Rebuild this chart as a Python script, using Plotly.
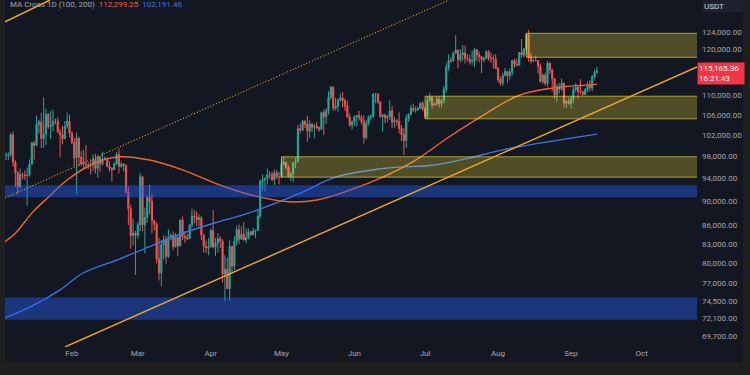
import numpy as np
import pandas as pd
import plotly.graph_objects as go

# ---------------- data (BTC/USDT daily, values in thousands of USDT) ----------------
open_ = [
    # Jan
    93.58, 94.59, 96.98, 98.14, 98.24, 98.31, 102.08, 96.92, 95.04, 92.48, 94.70, 94.57, 94.51, 94.52, 96.53, 100.50,
    99.99, 104.08, 104.56, 101.33, 102.26, 106.14, 103.65, 103.94, 104.72, 104.71, 102.59, 102.08, 101.33, 103.73, 104.73,
    # Feb
    102.43, 100.64, 97.69, 101.41, 97.87, 96.62, 96.55, 96.45, 96.46, 96.45, 97.43, 95.78, 97.87, 96.61, 97.50, 97.57,
    96.12, 95.77, 95.54, 96.64, 98.33, 96.13, 96.58, 96.27, 91.55, 88.74, 84.35, 84.70,
    # Mar
    84.35, 86.06, 94.27, 86.07, 87.22, 90.62, 89.96, 86.74, 86.15, 80.73, 78.60, 82.93, 83.68, 81.07, 83.97, 84.34,
    82.58, 84.08, 82.72, 86.85, 84.17, 84.04, 83.83, 86.08, 87.50, 87.39, 86.90, 87.23, 84.42, 82.65, 82.39,
    # Apr
    82.55, 85.16, 82.52, 83.10, 83.84, 83.50, 78.37, 79.14, 76.27, 82.62, 79.61, 83.42, 85.28, 83.76, 84.54, 83.63,
    84.03, 84.94, 84.45, 85.06, 85.17, 87.51, 93.44, 93.69, 93.98, 94.64, 94.63, 93.75, 94.98, 94.28,
    # May
    94.17, 96.49, 96.91, 95.86, 94.28, 94.73, 96.83, 97.03, 103.24, 102.97, 104.70, 104.12, 102.79, 104.17, 103.54, 103.74,
    103.49, 103.13, 106.45, 105.61, 106.79, 109.64, 111.70, 107.32, 107.76, 109.00, 109.44, 108.94, 107.78, 105.59, 103.98,
    # Jun
    104.59, 105.64, 105.81, 105.42, 104.70, 101.51, 104.29, 105.62, 105.73, 110.26, 110.27, 108.65, 105.67, 105.98, 105.41,
    105.59, 106.79, 104.55, 104.88, 104.64, 103.28, 102.12, 100.96, 105.33, 106.08, 107.33, 106.95, 107.07, 107.30, 108.36,
    # Jul
    107.14, 105.68, 108.85, 109.58, 107.98, 108.22, 109.20, 108.26, 108.92, 111.23, 115.99, 117.52, 117.42, 119.09, 119.84,
    117.68, 118.78, 119.18, 117.92, 117.84, 117.27, 117.38, 119.95, 118.76, 118.34, 117.64, 117.94, 119.45, 118.06, 117.92, 117.83,
    # Aug
    115.76, 113.30, 112.53, 114.21, 115.06, 114.11, 114.99, 117.49, 116.67, 116.46, 119.29, 118.69, 120.13, 123.31, 118.30,
    117.34, 117.49, 117.45, 116.23, 112.87, 114.27, 112.50, 116.94, 115.38, 113.49, 110.11, 111.79, 111.26, 112.57, 108.38, 108.82,
    # Sep
    108.25, 109.24, 111.24, 111.71, 110.72, 110.66, 110.19, 111.14, 112.07, 111.55, 113.96, 114.90,
]
high = [
    95.00, 97.80, 98.98, 98.70, 98.80, 102.48, 102.70, 97.30, 95.30, 95.80, 95.00, 95.40, 95.90, 97.37, 100.68, 100.87,
    105.86, 104.99, 106.42, 109.59, 107.24, 106.33, 106.85, 107.10, 105.28, 105.47, 103.20, 103.78, 104.78, 106.46, 106.01,
    102.75, 101.46, 102.50, 101.73, 99.00, 99.20, 100.14, 96.88, 97.30, 98.35, 98.50, 98.12, 98.00, 98.83, 97.97, 97.73,
    97.05, 96.00, 96.90, 98.80, 99.50, 96.98, 96.67, 96.50, 92.50, 89.40, 87.00, 85.10,
    86.56, 95.00, 94.42, 88.91, 90.99, 92.81, 91.28, 86.85, 86.47, 83.95, 83.62, 84.36, 84.30, 85.31, 84.67, 85.00,
    84.73, 84.10, 87.02, 87.45, 85.00, 84.57, 86.10, 88.77, 88.55, 88.29, 87.80, 87.50, 84.57, 83.50, 83.95,
    85.49, 88.50, 83.92, 84.72, 84.23, 83.75, 81.24, 80.86, 83.59, 82.70, 84.25, 85.90, 86.10, 85.80, 86.50, 85.50,
    85.47, 85.10, 85.60, 85.30, 88.46, 93.82, 94.70, 94.00, 95.76, 95.30, 95.20, 95.60, 95.46, 95.18,
    97.44, 97.90, 96.95, 96.30, 95.20, 96.92, 97.73, 103.97, 104.32, 104.98, 104.94, 105.82, 104.97, 104.36, 104.20, 104.55,
    103.70, 106.66, 107.11, 107.32, 110.80, 111.98, 111.80, 109.46, 109.30, 110.40, 110.70, 109.30, 108.90, 106.30, 104.90,
    105.88, 105.95, 106.79, 106.00, 105.90, 105.00, 105.90, 106.10, 110.50, 110.40, 110.39, 108.75, 106.20, 106.20, 105.95,
    108.95, 107.77, 105.57, 105.20, 106.50, 104.00, 103.40, 106.10, 106.30, 108.00, 108.27, 107.70, 107.60, 108.53, 108.79,
    107.53, 109.79, 110.53, 109.75, 108.50, 109.70, 109.73, 109.20, 111.99, 116.87, 118.87, 118.20, 119.49, 123.22, 119.94,
    120.07, 120.99, 120.83, 118.95, 118.86, 119.68, 120.25, 120.10, 119.54, 118.40, 118.30, 119.80, 119.80, 119.27, 118.79, 118.92,
    116.10, 114.00, 114.78, 115.80, 115.13, 115.70, 117.60, 117.95, 117.90, 119.30, 122.34, 120.30, 123.67, 124.47, 119.20,
    117.90, 118.58, 117.60, 116.80, 114.60, 114.80, 117.40, 117.00, 115.70, 113.60, 112.40, 112.60, 113.50, 112.65, 108.95, 109.48,
    109.91, 111.77, 112.60, 112.00, 113.38, 111.00, 111.56, 112.90, 113.20, 114.30, 115.50, 116.10,
]
low = [
    92.70, 94.20, 96.00, 97.30, 97.30, 97.90, 96.10, 92.50, 91.20, 92.20, 93.80, 93.70, 89.26, 94.30, 96.50, 97.35,
    99.95, 102.28, 99.55, 99.55, 100.12, 103.25, 101.26, 102.75, 104.10, 102.46, 97.78, 100.27, 101.28, 103.30, 101.54,
    100.28, 96.15, 91.23, 96.15, 96.20, 95.70, 95.62, 95.69, 94.72, 95.26, 94.85, 94.09, 95.20, 96.25, 97.23, 96.05,
    95.20, 93.39, 95.50, 96.40, 94.87, 95.90, 95.23, 91.35, 86.05, 82.26, 82.80, 78.26,
    83.82, 85.04, 85.08, 81.53, 86.38, 87.81, 84.67, 85.20, 80.00, 77.46, 76.61, 80.64, 79.94, 80.82, 83.63, 82.02,
    82.46, 81.13, 82.60, 83.66, 83.18, 83.60, 83.78, 85.53, 86.30, 85.86, 85.80, 83.60, 81.65, 81.57, 81.28,
    82.43, 82.32, 81.16, 81.66, 82.37, 77.15, 74.51, 76.24, 74.62, 78.46, 78.94, 82.77, 82.99, 83.68, 83.60, 83.10,
    83.74, 84.30, 84.40, 83.95, 85.14, 87.08, 91.94, 91.66, 92.86, 93.88, 93.50, 92.80, 93.88, 92.91,
    94.13, 96.30, 95.75, 94.15, 93.51, 93.38, 95.83, 96.90, 102.30, 102.80, 103.35, 100.72, 101.43, 102.57, 101.38, 103.10,
    102.61, 103.12, 102.00, 104.20, 106.10, 109.20, 106.80, 106.90, 106.60, 108.70, 107.50, 106.80, 105.35, 103.62, 103.07,
    103.80, 103.70, 104.88, 104.12, 100.37, 101.10, 103.90, 104.90, 105.33, 108.35, 108.10, 105.40, 102.66, 104.30, 104.50,
    104.99, 103.37, 103.50, 103.90, 102.34, 100.80, 98.20, 99.60, 104.60, 105.90, 106.60, 106.40, 106.87, 107.20, 106.73,
    105.27, 105.16, 108.56, 107.27, 107.80, 107.80, 107.45, 107.50, 108.35, 110.58, 115.22, 116.90, 117.25, 118.91, 115.74,
    117.10, 117.40, 116.80, 117.26, 116.65, 116.51, 116.12, 117.30, 117.10, 114.72, 117.15, 117.84, 117.42, 117.00, 115.74, 115.50,
    112.70, 112.00, 112.00, 114.10, 112.65, 113.35, 114.25, 115.90, 116.30, 116.40, 118.10, 118.20, 118.90, 117.18, 116.80,
    117.23, 117.25, 114.66, 112.73, 112.38, 112.00, 111.70, 114.60, 110.80, 109.30, 108.67, 110.35, 110.90, 107.46, 107.35, 108.08,
    107.27, 108.39, 110.60, 109.33, 110.20, 109.90, 110.00, 110.62, 110.75, 110.90, 113.40, 114.60,
]
close = [
    94.59, 96.98, 98.14, 98.24, 98.31, 102.08, 96.92, 95.04, 92.48, 94.70, 94.57, 94.51, 94.52, 96.53, 100.50, 99.99,
    104.08, 104.56, 101.33, 102.26, 106.14, 103.65, 103.94, 104.72, 104.71, 102.59, 102.08, 101.33, 103.73, 104.73, 102.43,
    100.64, 97.69, 101.41, 97.87, 96.62, 96.55, 96.45, 96.46, 96.45, 97.43, 95.78, 97.87, 96.61, 97.50, 97.57, 96.12,
    95.77, 95.54, 96.64, 98.33, 96.13, 96.58, 96.27, 91.55, 88.74, 84.35, 84.70, 84.35,
    86.06, 94.27, 86.07, 87.22, 90.62, 89.96, 86.74, 86.15, 80.73, 78.60, 82.93, 83.68, 81.07, 83.97, 84.34, 82.58,
    84.08, 82.72, 86.85, 84.17, 84.04, 83.83, 86.08, 87.50, 87.39, 86.90, 87.23, 84.42, 82.65, 82.39, 82.55,
    85.16, 82.52, 83.10, 83.84, 83.50, 78.37, 79.14, 76.27, 82.62, 79.61, 83.42, 85.28, 83.76, 84.54, 83.63, 84.03,
    84.94, 84.45, 85.06, 85.17, 87.51, 93.44, 93.69, 93.98, 94.64, 94.63, 93.75, 94.98, 94.28, 94.17,
    96.49, 96.91, 95.86, 94.28, 94.73, 96.83, 97.03, 103.24, 102.97, 104.70, 104.12, 102.79, 104.17, 103.54, 103.74, 103.49,
    103.13, 106.45, 105.61, 106.79, 109.64, 111.70, 107.32, 107.76, 109.00, 109.44, 108.94, 107.78, 105.59, 103.98, 104.59,
    105.64, 105.81, 105.42, 104.70, 101.51, 104.29, 105.62, 105.73, 110.26, 110.27, 108.65, 105.67, 105.98, 105.41, 105.59,
    106.79, 104.55, 104.88, 104.64, 103.28, 102.12, 100.96, 105.33, 106.08, 107.33, 106.95, 107.07, 107.30, 108.36, 107.14,
    105.68, 108.85, 109.58, 107.98, 108.22, 109.20, 108.26, 108.92, 111.23, 115.99, 117.52, 117.42, 119.09, 119.84, 117.68,
    118.78, 119.18, 117.92, 117.84, 117.27, 117.38, 119.95, 118.76, 118.34, 117.64, 117.94, 119.45, 118.06, 117.92, 117.83, 115.76,
    113.30, 112.53, 114.21, 115.06, 114.11, 114.99, 117.49, 116.67, 116.46, 119.29, 118.69, 120.13, 123.31, 118.30, 117.34,
    117.49, 117.45, 116.23, 112.87, 114.27, 112.50, 116.94, 115.38, 113.49, 110.11, 111.79, 111.26, 112.57, 108.38, 108.82, 108.25,
    109.24, 111.24, 111.71, 110.72, 110.66, 110.19, 111.14, 112.07, 111.55, 113.96, 114.90, 115.17,
]
start_date = "2025-01-01"

# moving averages (thousands)
ma100_dates = ["2025-01-03", "2025-01-08", "2025-01-15", "2025-01-22", "2025-01-30", "2025-02-11", "2025-02-21",
               "2025-03-06", "2025-03-20", "2025-04-03", "2025-04-17", "2025-05-04", "2025-05-16", "2025-05-30",
               "2025-06-13", "2025-06-27", "2025-07-11", "2025-07-26", "2025-08-10", "2025-08-24", "2025-09-12"]
ma100_vals = [83.2, 84.7, 88.0, 90.7, 93.7, 96.8, 97.9, 97.3, 95.5, 93.1, 91.2, 89.9, 90.2, 91.9,
              94.2, 97.3, 101.6, 106.0, 110.0, 111.5, 112.3]
ma200_dates = ["2025-01-03", "2025-01-15", "2025-01-27", "2025-02-06", "2025-02-20", "2025-03-06", "2025-03-20",
               "2025-04-03", "2025-04-17", "2025-05-09", "2025-05-24", "2025-06-14", "2025-07-05", "2025-07-20",
               "2025-08-03", "2025-09-12"]
ma200_vals = [72.1, 73.8, 76.1, 78.6, 80.5, 82.6, 84.7, 86.4, 88.0, 91.4, 94.2, 95.8, 96.4, 97.7, 99.2, 102.2]
ma100_last = "112,299.25"
ma200_last = "102,191.46"

# zones (left date, top, bottom) in thousands
supply_zone = ("2025-08-13", 123.7, 118.2)
mid_zone = ("2025-07-01", 109.8, 105.2)
low_zone = ("2025-05-01", 97.9, 94.2)
blue_zone_1 = ("2024-12-20", 92.75, 90.67)
blue_zone_2 = ("2024-12-20", 75.0, 71.9)
zone_end = "2025-12-31"

# trend lines (date, price in thousands)
channel_low = (["2025-01-29 02:24", "2025-10-24 12:00"], [68.3, 116.05])
channel_mid = (["2025-01-03 14:24", "2025-07-11 02:24"], [90.56, 131.75])
channel_top = (["2025-01-03 14:24", "2025-01-22 17:00"], [126.4, 131.75])

last_price = "115,165.36"
countdown = "16:21:43"

y_ticks = [124000, 120000, 110000, 106000, 102000, 98000, 94000, 90000, 86000, 83000, 80000, 77000, 74500, 72100, 69700]
month_ticks = ["2025-02-01", "2025-03-01", "2025-04-01", "2025-05-01", "2025-06-01", "2025-07-01",
               "2025-08-01", "2025-09-01", "2025-10-01"]
month_labels = ["Feb", "Mar", "Apr", "May", "Jun", "Jul", "Aug", "Sep", "Oct"]

# ---------------- figure ----------------
K = 1000.0
dates = pd.date_range(start_date, periods=len(close), freq="D")
BG = "#131722"
FRAME = "#1f1f1f"
TXT = "#a3a6af"
UP, DOWN = "#26a69a", "#ef5350"
AMBER = "#f5a623"

fig = go.Figure()
fig.add_trace(go.Candlestick(
    x=dates, open=np.array(open_) * K, high=np.array(high) * K, low=np.array(low) * K, close=np.array(close) * K,
    increasing=dict(line=dict(color=UP, width=1), fillcolor=UP),
    decreasing=dict(line=dict(color=DOWN, width=1), fillcolor=DOWN),
    whiskerwidth=0, hoverinfo="skip", showlegend=False,
))
fig.add_trace(go.Scatter(x=pd.to_datetime(ma200_dates), y=np.array(ma200_vals) * K, mode="lines",
                         line=dict(color="#3d74e6", width=1.4, shape="spline", smoothing=1.0),
                         hoverinfo="skip", showlegend=False))
fig.add_trace(go.Scatter(x=pd.to_datetime(ma100_dates), y=np.array(ma100_vals) * K, mode="lines",
                         line=dict(color="#f0642c", width=1.4, shape="spline", smoothing=1.0),
                         hoverinfo="skip", showlegend=False))


def zone(z, fill, line):
    x0, top, bot = z
    fig.add_trace(go.Scatter(
        x=[x0, zone_end, zone_end, x0, x0], y=[top * K, top * K, bot * K, bot * K, top * K],
        mode="lines", fill="toself", fillcolor=fill, line=dict(color=line, width=1),
        hoverinfo="skip", showlegend=False))


for z in (blue_zone_1, blue_zone_2):
    zone(z, "rgba(41,98,255,0.42)", "rgba(0,0,0,0)")
for z in (supply_zone, mid_zone, low_zone):
    zone(z, "rgba(255,235,59,0.26)", "rgba(255,235,59,0.6)")

for xs, ys, dash, w in ((channel_low[0], channel_low[1], "solid", 1.4),
                        (channel_mid[0], channel_mid[1], "1px,2px", 1.1),
                        (channel_top[0], channel_top[1], "solid", 1.4)):
    fig.add_trace(go.Scatter(x=pd.to_datetime(xs), y=np.array(ys) * K, mode="lines",
                             line=dict(color=AMBER, width=w, dash=dash),
                             hoverinfo="skip", showlegend=False))

W, H = 750, 375
ML, MR, MT, MB = 5, 53, 0, 28
PW, PH = W - ML - MR, H - MT - MB


def px_x(px):
    return (px - ML) / PW


def px_y(py):
    return (H - MB - py) / PH


fig.update_layout(
    width=W, height=H, margin=dict(l=ML, r=MR, t=MT, b=MB),
    paper_bgcolor=BG, plot_bgcolor=BG,
    font=dict(family="Roboto, sans-serif", size=8, color=TXT),
    xaxis=dict(type="date", range=["2025-01-03 14:24", "2025-10-24 12:00"], rangeslider=dict(visible=False),
               showgrid=False, zeroline=False, showline=False, ticks="",
               tickmode="array", tickvals=month_ticks, ticktext=month_labels,
               tickfont=dict(size=8, color=TXT)),
    yaxis=dict(type="log", range=[np.log10(68290), np.log10(131750)], side="right",
               showgrid=False, zeroline=False, showline=False, ticks="",
               tickmode="array", tickvals=y_ticks, ticktext=[f"{v:,.2f}" for v in y_ticks],
               tickfont=dict(size=8, color=TXT), ticklabelstandoff=4),
    hovermode=False,
)

# outer frame strips
shapes = [
    dict(type="rect", xref="paper", yref="paper", x0=px_x(0), x1=px_x(5), y0=px_y(375), y1=px_y(0),
         fillcolor=FRAME, line=dict(width=0), layer="above"),
    dict(type="rect", xref="paper", yref="paper", x0=px_x(743), x1=px_x(750), y0=px_y(375), y1=px_y(0),
         fillcolor=FRAME, line=dict(width=0), layer="above"),
    dict(type="rect", xref="paper", yref="paper", x0=px_x(0), x1=px_x(750), y0=px_y(375), y1=px_y(362),
         fillcolor=FRAME, line=dict(width=0), layer="above"),
]
fig.update_layout(shapes=shapes)

annotations = [
    dict(xref="paper", yref="paper", x=px_x(9), y=px_y(-1), xanchor="left", yanchor="top", showarrow=False,
         text=("MA Cross 1D (100, 200)&nbsp;&nbsp;<span style='color:#f0642c'>" + ma100_last +
               "</span>&nbsp;&nbsp;<span style='color:#3d74e6'>" + ma200_last + "</span>"),
         font=dict(size=8, color=TXT), borderpad=0),
    dict(xref="paper", yref="paper", x=px_x(702), y=px_y(0), xanchor="left", yanchor="top", showarrow=False,
         text="USDT", font=dict(size=8, color="#d1d4dc"), bgcolor="#1e222d", width=38, align="left",
         borderpad=1),
    dict(xref="paper", yref="paper", x=px_x(697), y=px_y(74), xanchor="left", yanchor="middle", showarrow=False,
         text=last_price + "<br>" + countdown, font=dict(size=8, color="#ffffff"), bgcolor="#f23645",
         width=44, align="left", borderpad=1),
]
fig.update_layout(annotations=annotations)

fig.write_html("out.html")
